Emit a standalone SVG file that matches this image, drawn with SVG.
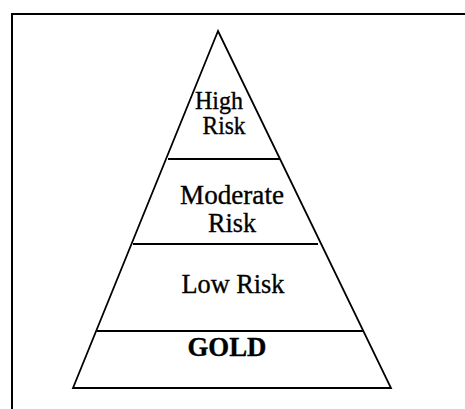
<svg xmlns="http://www.w3.org/2000/svg" width="465" height="409" viewBox="0 0 465 409">
  <style>
    .frame { fill: none; stroke: #000; stroke-width: 2; }
    .edge { fill: none; stroke: #000; stroke-width: 1.8; stroke-linejoin: miter; }
    .tier { fill: none; stroke: #000; stroke-width: 1.8; }
    .label { font-family: "Liberation Serif", "Times New Roman", serif; font-size: 27px; fill: #000; stroke: #000; stroke-width: 0.35; text-anchor: middle; }
    .small { font-size: 25px; }
    .bold { font-weight: bold; font-size: 27px; }
  </style>
  <rect width="465" height="409" fill="#fff"/>
  <!-- outer frame: open at the right and bottom edges -->
  <path class="frame" d="M12,409 V14 H465"/>

  <!-- pyramid outline -->
  <g id="pyramid">
    <path class="edge" d="M218,31 L73,388 L391,388 Z"/>
  </g>

  <!-- tier dividers -->
  <g id="dividers">
    <line class="tier" x1="168" y1="159" x2="280" y2="159"/>
    <line class="tier" x1="133" y1="244" x2="318" y2="244"/>
    <line class="tier" x1="97" y1="331" x2="363" y2="331"/>
  </g>

  <g id="tier-high">
    <text class="label small" x="219" y="109" textLength="48" lengthAdjust="spacingAndGlyphs">High</text>
    <text class="label small" x="224" y="134" textLength="43" lengthAdjust="spacingAndGlyphs">Risk</text>
  </g>
  <g id="tier-moderate">
    <text class="label" x="232" y="204" textLength="104" lengthAdjust="spacingAndGlyphs">Moderate</text>
    <text class="label" x="232" y="232" textLength="48" lengthAdjust="spacingAndGlyphs">Risk</text>
  </g>
  <g id="tier-low">
    <text class="label" x="233" y="293" textLength="103" lengthAdjust="spacingAndGlyphs">Low Risk</text>
  </g>
  <g id="tier-gold">
    <text class="label bold" x="227" y="356" textLength="79" lengthAdjust="spacingAndGlyphs">GOLD</text>
  </g>
</svg>
